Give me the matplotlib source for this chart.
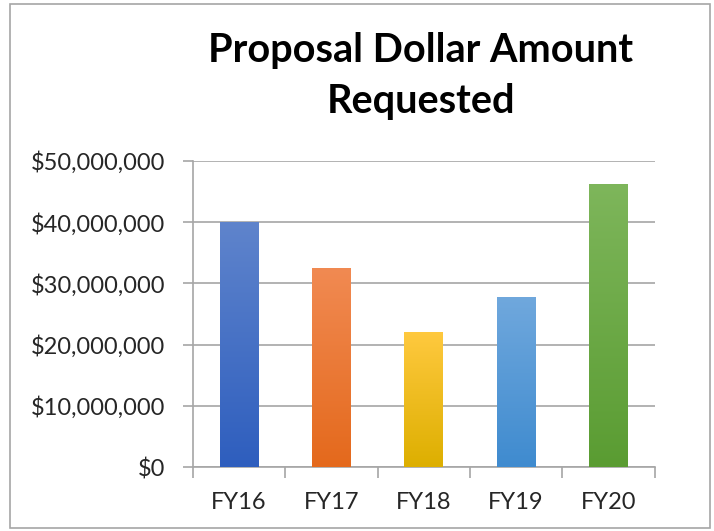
import numpy as np
import matplotlib
matplotlib.use("Agg")
import matplotlib.pyplot as plt
from matplotlib.colors import LinearSegmentedColormap
from matplotlib.patches import Rectangle
from matplotlib.ticker import FuncFormatter

# Data
years = ["FY16", "FY17", "FY18", "FY19", "FY20"]
amounts = [40.0e6, 32.5e6, 22.1e6, 27.8e6, 46.3e6]
top_colors = ["#5F84CC", "#F18A52", "#FFC93F", "#70A8DD", "#7EB65B"]
bottom_colors = ["#2E5EBE", "#E4691C", "#DDAF00", "#3F8BCF", "#5A9C32"]

plt.rcParams["font.family"] = ["Lato", "DejaVu Sans"]

fig = plt.figure(figsize=(7.14, 5.31), dpi=100)
ax = fig.add_axes([0.270, 0.1205, 0.647, 0.5765])

x = np.arange(len(years))
bars = ax.bar(x, amounts, width=0.42, color="none", zorder=3)

# vertical gradient fill, clipped to each bar
grad = np.linspace(0, 1, 256).reshape(-1, 1)
for bar, c_top, c_bot in zip(bars, top_colors, bottom_colors):
    cmap = LinearSegmentedColormap.from_list("g", [c_bot, c_top])
    x0, y0 = bar.get_x(), bar.get_y()
    w, h = bar.get_width(), bar.get_height()
    im = ax.imshow(grad, cmap=cmap, extent=[x0, x0 + w, y0, y0 + h],
                   origin="lower", aspect="auto", zorder=3)
    im.set_clip_path(bar)

ax.set_xlim(-0.5, len(years) - 0.5)
ax.set_ylim(0, 50e6)
ax.set_yticks(np.arange(0, 50e6 + 1, 10e6))
ax.yaxis.set_major_formatter(FuncFormatter(lambda v, p: "${:,.0f}".format(v)))
ax.set_xticks(x)
ax.set_xticklabels(years)
ax.set_xticks(np.arange(-0.5, len(years), 1.0), minor=True)

ax.grid(axis="y", color="#a6a6a6", linewidth=1.2, zorder=0)
for s in ["top", "right"]:
    ax.spines[s].set_visible(False)
ax.spines["left"].set_color("#a6a6a6")
ax.spines["bottom"].set_color("#a6a6a6")
ax.spines["left"].set_linewidth(1.2)
ax.spines["bottom"].set_linewidth(1.2)

ax.tick_params(axis="y", length=7, color="#a6a6a6", width=1.2, labelsize=17,
               labelcolor="#262626", pad=13)
ax.tick_params(axis="x", which="major", length=0, labelsize=17,
               labelcolor="#262626", pad=18)
ax.tick_params(axis="x", which="minor", length=8, color="#a6a6a6", width=1.2)

fig.text(0.589, 0.857, "Proposal Dollar Amount\nRequested", ha="center",
         va="center", fontsize=28.5, fontweight="bold", color="black",
         linespacing=1.45)

# outer frame of the chart area
fig.patches.append(Rectangle((0.014, 0.006), 0.98, 0.987,
                             transform=fig.transFigure, fill=False,
                             edgecolor="#a6a6a6", linewidth=1.2))

fig.savefig("out.png", dpi=100)
